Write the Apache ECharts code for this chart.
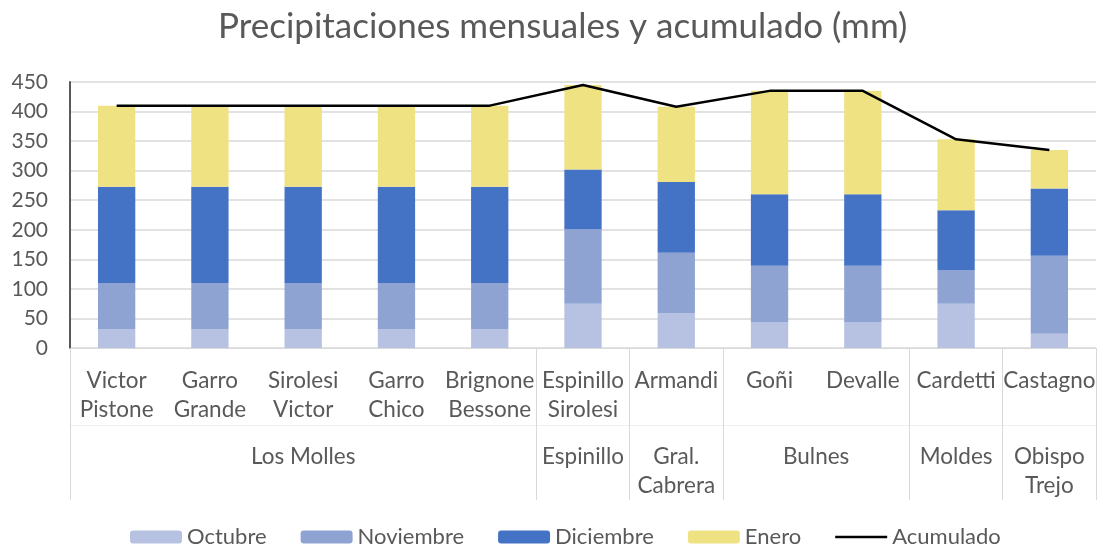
<!DOCTYPE html>
<html><head><meta charset="utf-8">
<script src="https://cdn.jsdelivr.net/npm/echarts@6/dist/echarts.min.js"></script>
<style>html,body{margin:0;padding:0;background:#fff}#c{width:1099px;height:546px}</style>
</head><body><div id="c"></div>
<script>
const categories = ['Victor\nPistone','Garro\nGrande','Sirolesi\nVictor','Garro\nChico','Brignone\nBessone','Espinillo\nSirolesi','Armandi','Goñi','Devalle','Cardetti','Castagno'];
const groupNames = ['Los Molles','Espinillo','Gral.\nCabrera','Bulnes','Moldes','Obispo\nTrejo'];
const groupSizes = [5,1,1,2,1,1];
const octubre   = [32,32,32,32,32,75,59,44,44,75,24];
const noviembre = [78,78,78,78,78,126,102,95,95,57,132];
const diciembre = [163,163,163,163,163,101,120,121,121,101,114];
const enero     = [137,137,137,137,137,143,127,175,175,120,65];
const acumulado = [410,410,410,410,410,445,408,435,435,353,335];
const yMin = 0, yMax = 450, yStep = 50;

const FONT = 'Lato';
const GRAY = '#595959';

// build half-step category axis for the group level
const halfData = [];
for (let k = 0; k <= categories.length * 2; k++) halfData.push('');
const boundary = new Set([0]);
let start = 0;
groupNames.forEach((g, i) => {
  const n = groupSizes[i];
  halfData[2 * start + n] = g;
  start += n;
  boundary.add(2 * start);
});

const lineIcon = 'path://M0,0h0.01v0.01h-0.01z M0,5.25h52v2.5h-52z M51.99,12.99h0.01v0.01h-0.01z';

const chart = echarts.init(document.getElementById('c'), null, {renderer: 'canvas'});
const barBase = {type: 'bar', stack: 'total', barWidth: '40%'};
chart.setOption({
  backgroundColor: '#fff',
  animation: false,
  textStyle: {fontFamily: FONT},
  title: {
    text: 'Precipitaciones mensuales y acumulado (mm)',
    left: 213, top: 4,
    textStyle: {fontFamily: FONT, fontSize: 35, fontWeight: 'normal', color: GRAY}
  },
  legend: {
    bottom: -7, left: 125,
    itemWidth: 52, itemHeight: 13, itemGap: 34,
    textStyle: {fontFamily: FONT, fontSize: 22, color: GRAY},
    data: ['Octubre','Noviembre','Diciembre','Enero',{name: 'Acumulado', icon: lineIcon}]
  },
  grid: {left: 70, right: 0, top: 82, bottom: 198, containLabel: false},
  xAxis: [
    {
      type: 'category', data: categories,
      axisLine: {lineStyle: {color: '#d9d9d9', width: 1}},
      axisTick: {show: false},
      axisLabel: {interval: 0, color: GRAY, fontFamily: FONT, fontSize: 22.5, lineHeight: 29, margin: 18}
    },
    {
      type: 'category', data: halfData, boundaryGap: false, position: 'bottom', offset: 0,
      axisLine: {show: false},
      axisTick: {show: true, length: 152, interval: (i) => boundary.has(i), lineStyle: {color: '#d9d9d9', width: 1}},
      axisLabel: {interval: 0, color: GRAY, fontFamily: FONT, fontSize: 22.5, lineHeight: 29, margin: 94}
    },
    {
      type: 'category', data: categories, position: 'bottom', offset: 77,
      axisLine: {show: true, lineStyle: {color: '#f0f0f0', width: 1}},
      axisTick: {show: false}, axisLabel: {show: false}
    }
  ],
  yAxis: {
    type: 'value', min: yMin, max: yMax, interval: yStep,
    axisLine: {show: true, lineStyle: {color: GRAY, width: 2}},
    axisTick: {show: false},
    axisLabel: {color: GRAY, fontFamily: FONT, fontSize: 21, margin: 22},
    splitLine: {lineStyle: {color: '#d9d9d9', width: 1.5}}
  },
  series: [
    Object.assign({name: 'Octubre', data: octubre, itemStyle: {color: '#b7c2e3'}}, barBase),
    Object.assign({name: 'Noviembre', data: noviembre, itemStyle: {color: '#8fa3d3'}}, barBase),
    Object.assign({name: 'Diciembre', data: diciembre, itemStyle: {color: '#4472c4'}}, barBase),
    Object.assign({name: 'Enero', data: enero, itemStyle: {color: '#efe283'}}, barBase),
    {name: 'Acumulado', type: 'line', data: acumulado, symbol: 'none', z: 5,
     lineStyle: {color: '#000', width: 2.5}, itemStyle: {color: '#000'}}
  ]
});
</script></body></html>
